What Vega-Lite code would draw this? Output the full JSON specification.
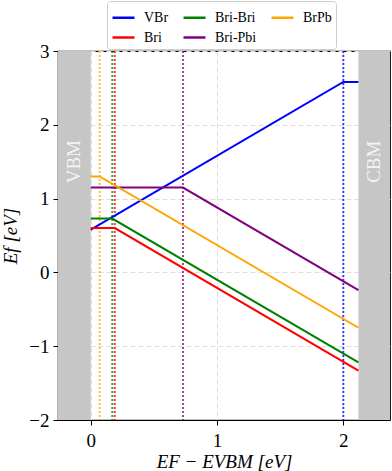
{
  "$schema": "https://vega.github.io/schema/vega-lite/v6.json",
  "width": 332,
  "height": 369,
  "autosize": {"type": "none"},
  "padding": {"left": 58, "top": 51, "right": 2, "bottom": 51},
  "background": "white",
  "config": {
    "font": "Liberation Serif",
    "view": {"stroke": "black", "strokeWidth": 1.2},
    "axis": {
      "labelFont": "Liberation Serif",
      "titleFont": "Liberation Serif",
      "labelFontSize": 19,
      "titleFontSize": 19,
      "titleFontWeight": "normal",
      "titleFontStyle": "italic",
      "labelColor": "black",
      "titleColor": "black",
      "domainColor": "black",
      "tickColor": "black",
      "tickSize": 5,
      "grid": true,
      "gridColor": "#dddddd",
      "gridDash": [5, 3],
      "gridWidth": 1
    }
  },
  "datasets": {
    "lines": [
      {"series": "VBr", "x": 0, "y": 0.58},
      {"series": "VBr", "x": 2.0, "y": 2.58},
      {"series": "VBr", "x": 2.12, "y": 2.58},
      {"series": "Bri", "x": 0, "y": 0.60},
      {"series": "Bri", "x": 0.19, "y": 0.60},
      {"series": "Bri", "x": 2.12, "y": -1.33},
      {"series": "Bri-Bri", "x": 0, "y": 0.73},
      {"series": "Bri-Bri", "x": 0.17, "y": 0.73},
      {"series": "Bri-Bri", "x": 2.12, "y": -1.22},
      {"series": "Bri-Pbi", "x": 0, "y": 1.15},
      {"series": "Bri-Pbi", "x": 0.73, "y": 1.15},
      {"series": "Bri-Pbi", "x": 2.12, "y": -0.24},
      {"series": "BrPb", "x": 0, "y": 1.30},
      {"series": "BrPb", "x": 0.07, "y": 1.30},
      {"series": "BrPb", "x": 2.12, "y": -0.75}
    ],
    "rules": [
      {"series": "BrPb", "x": 0.07},
      {"series": "Bri-Bri", "x": 0.17},
      {"series": "Bri", "x": 0.19},
      {"series": "Bri-Pbi", "x": 0.73},
      {"series": "VBr", "x": 2.0}
    ],
    "bands": [
      {"band": "VBM", "x1": -0.26, "x2": 0, "y1": -2, "y2": 3, "tx": -0.13, "ty": 1.5},
      {"band": "CBM", "x1": 2.12, "x2": 2.37, "y1": -2, "y2": 3, "tx": 2.245, "ty": 1.5}
    ]
  },
  "resolve": {"scale": {"color": "independent"}, "legend": {"color": "independent"}},
  "layer": [
    {
      "data": {"name": "bands"},
      "mark": {"type": "rect", "color": "#c6c6c6"},
      "encoding": {
        "x": {"field": "x1", "type": "quantitative", "scale": {"domain": [-0.26, 2.37], "nice": false, "zero": false}},
        "x2": {"field": "x2"},
        "y": {"field": "y1", "type": "quantitative", "scale": {"domain": [-2, 3], "nice": false}},
        "y2": {"field": "y2"}
      }
    },
    {
      "data": {"name": "bands"},
      "mark": {"type": "text", "angle": 270, "fontSize": 19, "color": "#f4f4f4", "font": "Liberation Serif", "align": "center", "baseline": "middle"},
      "encoding": {
        "x": {"field": "tx", "type": "quantitative"},
        "y": {"field": "ty", "type": "quantitative"},
        "text": {"field": "band"}
      }
    },
    {
      "data": {"name": "rules"},
      "mark": {"type": "rule", "strokeDash": [2, 2], "strokeWidth": 2, "opacity": 0.75},
      "encoding": {
        "x": {"field": "x", "type": "quantitative"},
        "color": {"field": "series", "type": "nominal", "legend": null,
          "scale": {"domain": ["VBr", "Bri", "Bri-Bri", "Bri-Pbi", "BrPb"], "range": ["#0000ff", "#ff0000", "#008000", "#800080", "#ffa500"]}}
      }
    },
    {
      "data": {"name": "lines"},
      "mark": {"type": "line", "strokeWidth": 2},
      "encoding": {
        "x": {"field": "x", "type": "quantitative", "title": "EF − EVBM [eV]",
          "axis": {"values": [0, 1, 2], "labelPadding": 6, "titlePadding": 2, "format": "d"}},
        "y": {"field": "y", "type": "quantitative", "title": "Ef [eV]",
          "axis": {"values": [-2, -1, 0, 1, 2, 3], "labelPadding": 4, "titlePadding": 8, "format": "d"}},
        "color": {"field": "series", "type": "nominal",
          "scale": {"domain": ["VBr", "Bri", "Bri-Bri", "Bri-Pbi", "BrPb"], "range": ["#0000ff", "#ff0000", "#008000", "#800080", "#ffa500"]},
          "legend": {
            "title": null,
            "orient": "none",
            "legendX": 49,
            "legendY": -50,
            "columns": 3,
            "symbolType": "stroke",
            "symbolSize": 484,
            "symbolStrokeWidth": 2.5,
            "labelFont": "Liberation Serif",
            "labelFontSize": 14,
            "labelOffset": 8,
            "labelColor": "black",
            "columnPadding": 9,
            "rowPadding": -7,
            "padding": 4,
            "strokeColor": "#cccccc",
            "fillColor": "white",
            "cornerRadius": 3
          }
        }
      }
    }
  ]
}
